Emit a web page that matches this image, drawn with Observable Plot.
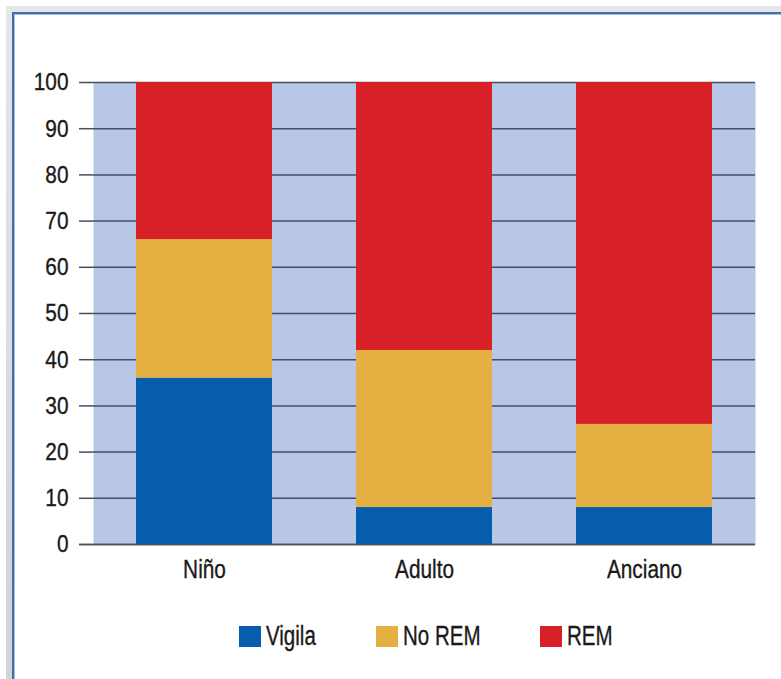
<!DOCTYPE html>
<html>
<head>
<meta charset="utf-8">
<script src="https://cdn.jsdelivr.net/npm/d3@7"></script>
<script src="https://cdn.jsdelivr.net/npm/@observablehq/plot@0.6"></script>
<style>
  html, body { margin: 0; padding: 0; background: #ffffff; }
  body { width: 781px; height: 679px; position: relative; overflow: hidden;
         font-family: "Liberation Sans", Arial, sans-serif; }
  #shadow { position: absolute; left: 6px; top: 6px; right: -20px; bottom: -20px;
            background: linear-gradient(#e6e6e6, #d2d2d2); }
  #frame { position: absolute; left: 12px; top: 12px; right: -20px; bottom: -20px;
           background: #ffffff; border-top: 2px solid #3f6ea8; border-left: 2px solid #3f6ea8;
           box-shadow: inset 1px 1px 0 #a8bfdc; }
  #chart { position: absolute; left: 0; top: 0; }
  #chart svg text { stroke: #1a1a1a; stroke-width: 0.35px; }
  #legend { position: absolute; left: 239px; top: 621px; display: flex; align-items: center;
            font-size: 27px; color: #1a1a1a; white-space: nowrap; -webkit-text-stroke: 0.35px #1a1a1a; }
  .item { display: flex; align-items: center; margin-right: 60px; }
  .item:last-child { margin-right: 0; }
  .sw { width: 22px; height: 21px; margin-right: 5px; display: inline-block; flex: none; }
  .lbl { display: inline-block; transform: scaleX(0.76); transform-origin: 0 50%; }
</style>
</head>
<body>
<div id="shadow"></div>
<div id="frame"></div>
<div id="chart"></div>
<div id="legend"></div>
<script>
const categories = ["Niño", "Adulto", "Anciano"];
const series = ["Vigila", "No REM", "REM"];
const vigila = [36, 8, 8];
const noRem = [30, 34, 18];
const rem = [34, 58, 74];
const colors = ["#065dad", "#e5b042", "#d82027"];
const yTicks = [0, 10, 20, 30, 40, 50, 60, 70, 80, 90, 100];

const valuesBySeries = [vigila, noRem, rem];
const data = [];
series.forEach((s, i) => {
  categories.forEach((c, j) => {
    data.push({category: c, series: s, value: valuesBySeries[i][j]});
  });
});

const plot = Plot.plot({
  width: 781,
  height: 600,
  marginLeft: 93,
  marginRight: 26,
  marginTop: 82,
  marginBottom: 56,
  style: {
    fontFamily: '"Liberation Sans", Arial, sans-serif',
    color: "#1a1a1a",
    background: "transparent"
  },
  x: {domain: categories, paddingInner: 0.38, paddingOuter: 0.19, label: null},
  y: {domain: [0, 100], label: null},
  color: {domain: series, range: colors},
  marks: [
    Plot.frame({fill: "#b8c7e6", stroke: null}),
    Plot.gridY(yTicks, {stroke: "#46505f", strokeOpacity: 1, strokeWidth: 1.5}),
    Plot.axisY(yTicks, {tickSize: 14, tickPadding: 11, fontSize: 24.5, stroke: "#46505f", strokeWidth: 1.5, label: null}),
    Plot.axisX({tickSize: 0, tickPadding: 15.5, fontSize: 26, label: null}),
    Plot.barY(data, {x: "category", y: "value", fill: "series", order: series}),
    Plot.ruleY([0], {stroke: "#46505f", strokeWidth: 1.5, insetLeft: -14})
  ]
});
document.getElementById("chart").appendChild(plot);

// condense axis text horizontally (narrow typeface look)
function condense(selector, s) {
  plot.querySelectorAll(selector + " text").forEach((t) => {
    const tr = t.getAttribute("transform");
    if (tr) {
      t.setAttribute("transform", tr + ` scale(${s},1)`);
    } else {
      const x = +t.getAttribute("x") || 0;
      t.setAttribute("transform", `translate(${x},0) scale(${s},1) translate(${-x},0)`);
    }
  });
}
condense('g[aria-label="y-axis tick label"]', 0.85);
condense('g[aria-label="x-axis tick label"]', 0.8);

const color = plot.scale("color");
const legend = document.getElementById("legend");
series.forEach((s) => {
  const item = document.createElement("div");
  item.className = "item";
  const sw = document.createElement("span");
  sw.className = "sw";
  sw.style.background = colors[color.domain.indexOf(s)];
  const label = document.createElement("span");
  label.className = "lbl";
  label.textContent = s;
  item.appendChild(sw);
  item.appendChild(label);
  legend.appendChild(item);
});
legend.querySelectorAll(".lbl").forEach((l) => {
  const w = l.offsetWidth;
  l.style.marginRight = (-(1 - 0.76) * w) + "px";
});
</script>
</body>
</html>
